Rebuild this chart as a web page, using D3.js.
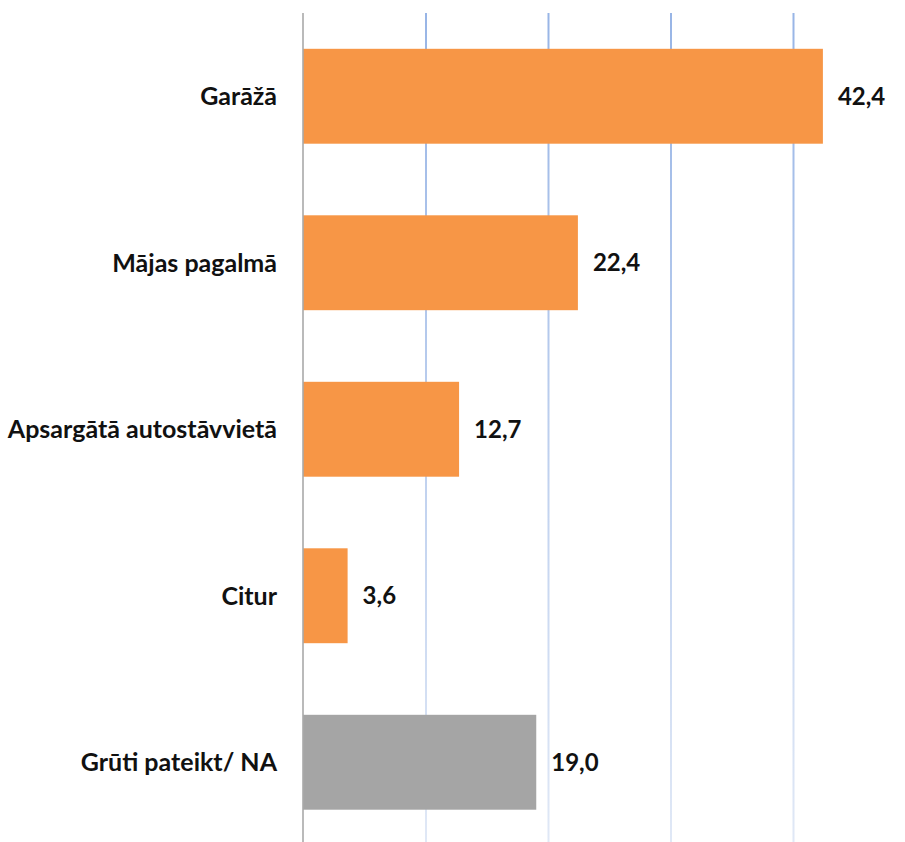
<!DOCTYPE html>
<html>
<head>
<meta charset="utf-8">
<script src="https://cdn.jsdelivr.net/npm/d3@7"></script>
<style>
  html, body { margin: 0; padding: 0; background: #fff; }
  #cntr { width: 905px; height: 842px; }
</style>
</head>
<body>
<div id="cntr"></div>
<script>
const categories = ["Garāžā", "Mājas pagalmā", "Apsargātā autostāvvietā", "Citur", "Grūti pateikt/ NA"];
const values = [42.4, 22.4, 12.7, 3.6, 19.0];
const colors = ["#f79646", "#f79646", "#f79646", "#f79646", "#a5a5a5"];
const ticks = [0, 10, 20, 30, 40];

const width = 905, height = 842;

const svg = d3.select("#cntr")
    .append("svg")
    .attr("width", width)
    .attr("height", height);

// fading blue gridlines, as in the original
const grad = svg.append("defs").append("linearGradient")
    .attr("id", "gridFade")
    .attr("gradientUnits", "userSpaceOnUse")
    .attr("x1", 0).attr("y1", 13).attr("x2", 0).attr("y2", 842);
grad.append("stop").attr("offset", "0%").attr("stop-color", "#98b5e6");
grad.append("stop").attr("offset", "100%").attr("stop-color", "#e0e8f6");

const x = d3.scaleLinear()
    .domain([0, 10])
    .range([303.5, 426]);

const y = d3.scaleBand()
    .domain(categories)
    .range([13, 845.5])
    .paddingInner(0.43)
    .paddingOuter(0.215);

// gridlines
svg.append("g")
    .selectAll("line")
    .data(ticks.slice(1))
    .join("line")
        .attr("x1", d => x(d))
        .attr("x2", d => x(d))
        .attr("y1", 13)
        .attr("y2", height)
        .style("stroke", "url(#gridFade)")
        .style("stroke-width", 2);

// bars
svg.append("g")
    .selectAll("rect")
    .data(values)
    .join("rect")
        .attr("x", x(0))
        .attr("y", (d, i) => y(categories[i]))
        .attr("width", d => x(d) - x(0))
        .attr("height", y.bandwidth())
        .style("fill", (d, i) => colors[i]);

// vertical axis line
svg.append("line")
    .attr("x1", x(0) - 0.5).attr("x2", x(0) - 0.5)
    .attr("y1", 13).attr("y2", height)
    .style("stroke", "#8c8c8c")
    .style("stroke-width", 1.2);

// category labels
svg.append("g")
    .selectAll("text")
    .data(categories)
    .join("text")
        .attr("x", 277)
        .attr("y", d => y(d) + y.bandwidth() / 2)
        .attr("dy", "0.35em")
        .style("text-anchor", "end")
        .style("font", "bold 25px Lato, sans-serif")
        .style("fill", "#111")
        .text(d => d);

// value labels
svg.append("g")
    .selectAll("text")
    .data(values)
    .join("text")
        .attr("x", d => x(d) + 15)
        .attr("y", (d, i) => y(categories[i]) + y.bandwidth() / 2)
        .attr("dy", "0.35em")
        .style("font", "bold 24px Lato, sans-serif")
        .style("fill", "#111")
        .text(d => d.toFixed(1).replace(".", ","));
</script>
</body>
</html>
